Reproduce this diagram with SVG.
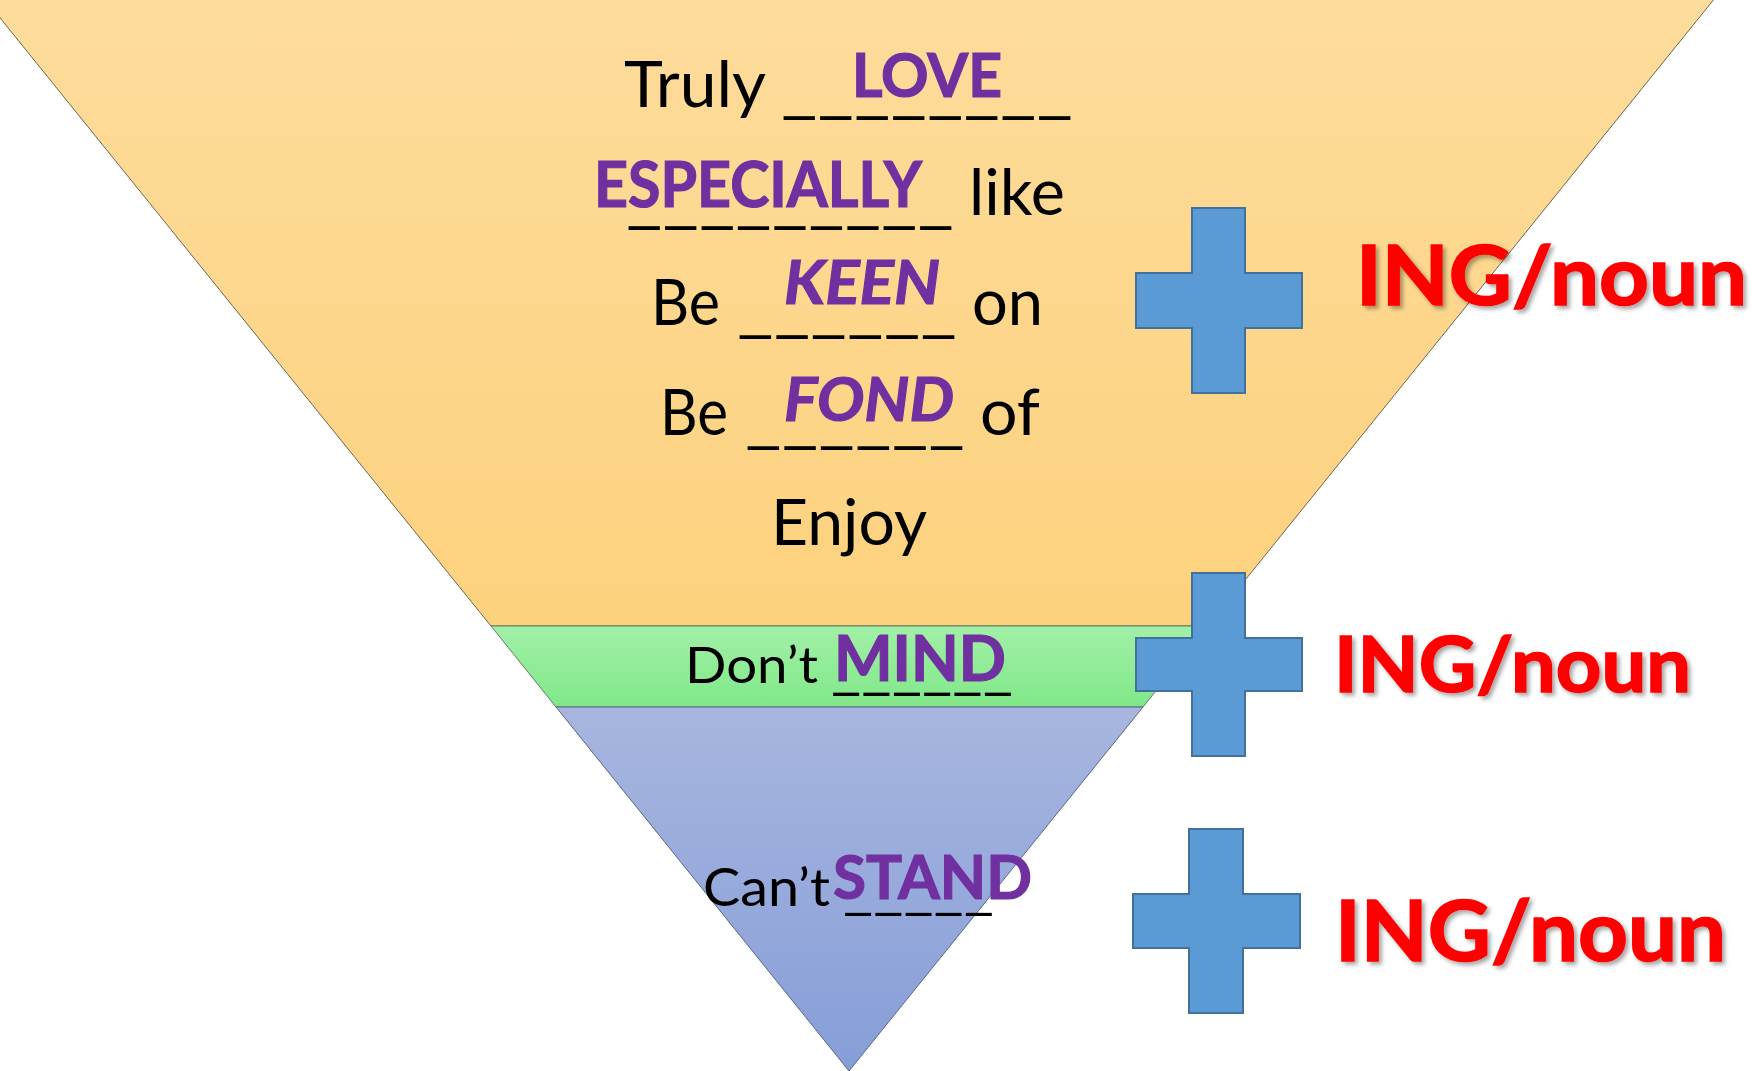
<svg xmlns="http://www.w3.org/2000/svg" width="1761" height="1071" viewBox="0 0 1761 1071">
  <defs>
    <linearGradient id="gOrange" x1="0" y1="0" x2="0" y2="626" gradientUnits="userSpaceOnUse">
      <stop offset="0" stop-color="#FEDC9C"/>
      <stop offset="1" stop-color="#FDD27E"/>
    </linearGradient>
    <linearGradient id="gGreen" x1="0" y1="626" x2="0" y2="707" gradientUnits="userSpaceOnUse">
      <stop offset="0" stop-color="#A2F0A8"/>
      <stop offset="1" stop-color="#80E888"/>
    </linearGradient>
    <linearGradient id="gBlue" x1="0" y1="707" x2="0" y2="1071" gradientUnits="userSpaceOnUse">
      <stop offset="0" stop-color="#A8B6DF"/>
      <stop offset="1" stop-color="#869ED8"/>
    </linearGradient>
    <filter id="shadow" x="-10%" y="-20%" width="130%" height="150%">
      <feDropShadow dx="3" dy="3" stdDeviation="2" flood-color="#000" flood-opacity="0.35"/>
    </filter>
  </defs>
  <style>
    .band { stroke-width: 1; }
    .plus { fill: #5B9BD5; stroke: #41719C; stroke-width: 2; }
    .blk { font-family: Lato, "Open Sans", sans-serif; fill: #000; }
    .pur { font-family: Lato, "Open Sans", sans-serif; font-weight: bold; fill: #7030A0; stroke: #7030A0; stroke-width: 1.2; }
    .ital { font-style: italic; }
    .red { font-family: Lato, "Open Sans", sans-serif; font-weight: bold; fill: #FF0000; stroke: #FF0000; stroke-width: 1.6; filter: url(#shadow); }
  </style>

  <g id="band-orange">
    <polygon class="band" points="-16,-2 1715,-2 1208,626 491,626" fill="url(#gOrange)" stroke="#6f6450"/>
  </g>
  <g id="band-green">
    <polygon class="band" points="491,626 1208,626 1143,707 556,707" fill="url(#gGreen)" stroke="#5f7f5f"/>
  </g>
  <g id="band-blue">
    <polygon class="band" points="556,707 1143,707 849,1071" fill="url(#gBlue)" stroke="#5a6587"/>
  </g>

  <g id="row-love">
    <text class="blk" x="624" y="107" font-size="64" textLength="142" lengthAdjust="spacingAndGlyphs">Truly</text>
    <text class="blk" x="781" y="111" font-size="64" textLength="292" lengthAdjust="spacingAndGlyphs">________</text>
    <text class="pur" x="852" y="97" font-size="61" textLength="150" lengthAdjust="spacingAndGlyphs">LOVE</text>
  </g>
  <g id="row-especially">
    <text class="pur" x="594" y="207" font-size="63" textLength="328" lengthAdjust="spacingAndGlyphs">ESPECIALLY</text>
    <text class="blk" x="626" y="221" font-size="64" textLength="328" lengthAdjust="spacingAndGlyphs">_________</text>
    <text class="blk" x="969" y="215" font-size="64" textLength="96" lengthAdjust="spacingAndGlyphs">like</text>
  </g>
  <g id="row-keen">
    <text class="blk" x="651" y="325" font-size="63" textLength="69" lengthAdjust="spacingAndGlyphs">Be</text>
    <text class="blk" x="737" y="330" font-size="64" textLength="220" lengthAdjust="spacingAndGlyphs">______</text>
    <text class="pur ital" x="784" y="304" font-size="61" textLength="156" lengthAdjust="spacingAndGlyphs">KEEN</text>
    <text class="blk" x="972" y="325" font-size="63" textLength="71" lengthAdjust="spacingAndGlyphs">on</text>
  </g>
  <g id="row-fond">
    <text class="blk" x="660" y="435" font-size="63" textLength="68" lengthAdjust="spacingAndGlyphs">Be</text>
    <text class="blk" x="745" y="441" font-size="64" textLength="220" lengthAdjust="spacingAndGlyphs">______</text>
    <text class="pur ital" x="784" y="421" font-size="61" textLength="170" lengthAdjust="spacingAndGlyphs">FOND</text>
    <text class="blk" x="980" y="435" font-size="63" textLength="60" lengthAdjust="spacingAndGlyphs">of</text>
  </g>
  <g id="row-enjoy">
    <text class="blk" x="771" y="545" font-size="63" textLength="156" lengthAdjust="spacingAndGlyphs">Enjoy</text>
  </g>
  <g id="row-mind">
    <text class="blk" x="685" y="683" font-size="50" textLength="133" lengthAdjust="spacingAndGlyphs">Don’t</text>
    <text class="blk" x="831" y="688" font-size="56" textLength="182" lengthAdjust="spacingAndGlyphs">______</text>
    <text class="pur" x="834" y="681" font-size="63" textLength="172" lengthAdjust="spacingAndGlyphs">MIND</text>
  </g>
  <g id="row-stand">
    <text class="blk" x="703" y="906" font-size="53" textLength="127" lengthAdjust="spacingAndGlyphs">Can’t</text>
    <text class="blk" x="843" y="909" font-size="53" textLength="151" lengthAdjust="spacingAndGlyphs">_____</text>
    <text class="pur" x="833" y="899" font-size="61" textLength="199" lengthAdjust="spacingAndGlyphs">STAND</text>
  </g>

  <g id="plus-1">
    <polygon class="plus" points="1192,208 1245,208 1245,273 1302,273 1302,328 1245,328 1245,393 1192,393 1192,328 1136,328 1136,273 1192,273"/>
  </g>
  <g id="plus-2">
    <polygon class="plus" points="1192,573 1245,573 1245,638 1302,638 1302,691 1245,691 1245,756 1192,756 1192,691 1136,691 1136,638 1192,638"/>
  </g>
  <g id="plus-3">
    <polygon class="plus" points="1189,829 1243,829 1243,894 1300,894 1300,948 1243,948 1243,1013 1189,1013 1189,948 1133,948 1133,894 1189,894"/>
  </g>

  <g id="label-1">
    <text class="red" x="1356" y="305" font-size="82" textLength="391" lengthAdjust="spacingAndGlyphs">ING/noun</text>
  </g>
  <g id="label-2">
    <text class="red" x="1334" y="692" font-size="77" textLength="357" lengthAdjust="spacingAndGlyphs">ING/noun</text>
  </g>
  <g id="label-3">
    <text class="red" x="1335" y="961" font-size="84" textLength="391" lengthAdjust="spacingAndGlyphs">ING/noun</text>
  </g>
</svg>
